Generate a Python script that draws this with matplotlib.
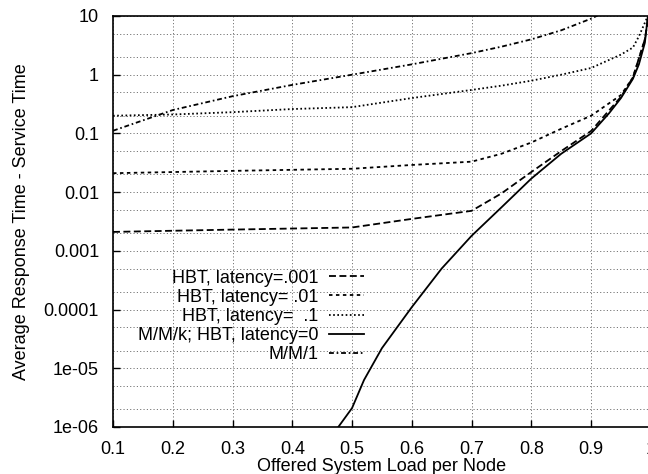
"""Average response time vs offered load: HBT latencies against M/M/k and M/M/1."""

import matplotlib

matplotlib.use("Agg")
import matplotlib.pyplot as plt

plt.rcParams["font.family"] = ["Liberation Sans", "DejaVu Sans"]
plt.rcParams["font.size"] = 13
plt.rcParams["lines.scale_dashes"] = False

# values
load_001 = [0.1, 0.3, 0.5, 0.6, 0.7, 0.75, 0.8, 0.85, 0.9, 0.95, 0.97, 0.99, 0.996]
resp_001 = [0.0021, 0.0023, 0.0025, 0.0035, 0.0048, 0.0095, 0.022, 0.05, 0.11, 0.42, 0.9, 4.0, 10.0]

load_01 = [0.1, 0.3, 0.5, 0.6, 0.7, 0.75, 0.8, 0.85, 0.9, 0.95, 0.97, 0.99, 0.996]
resp_01 = [0.021, 0.023, 0.025, 0.029, 0.033, 0.045, 0.07, 0.12, 0.2, 0.45, 0.9, 4.0, 10.0]

load_1 = [0.1, 0.2, 0.3, 0.4, 0.5, 0.6, 0.7, 0.75, 0.8, 0.85, 0.9, 0.95, 0.97, 0.98, 0.993]
resp_1 = [0.2, 0.21, 0.23, 0.26, 0.28, 0.4, 0.55, 0.65, 0.79, 1.0, 1.3, 2.2, 2.9, 4.5, 9.0]

load_mmk = [0.477, 0.5, 0.52, 0.55, 0.6, 0.65, 0.7, 0.75, 0.8, 0.85, 0.9, 0.93, 0.95, 0.97, 0.98, 0.99, 0.995]
resp_mmk = [1e-6, 2.1e-6, 6.3e-6, 2.2e-5, 1.1e-4, 5e-4, 1.8e-3, 5.5e-3, 0.017, 0.045, 0.1, 0.22, 0.4, 0.85, 1.5, 3.5, 10.0]

load_mm1 = [0.1, 0.2, 0.3, 0.4, 0.5, 0.6, 0.7, 0.75, 0.8, 0.85, 0.9, 0.91]
resp_mm1 = [0.111, 0.25, 0.43, 0.67, 1.0, 1.5, 2.33, 3.0, 4.0, 5.7, 9.0, 10.1]

xticks = [0.1, 0.2, 0.3, 0.4, 0.5, 0.6, 0.7, 0.8, 0.9, 1.0]
xtick_labels = ["0.1", "0.2", "0.3", "0.4", "0.5", "0.6", "0.7", "0.8", "0.9", "1"]
yticks = [1e-6, 1e-5, 1e-4, 1e-3, 1e-2, 1e-1, 1, 10]
ytick_labels = ["1e-06", "1e-05", "0.0001", "0.001", "0.01", "0.1", "1", "10"]
ygrid = [m * 10.0 ** e for e in range(-6, 1) for m in (1, 2, 5)] + [10]


def main() -> None:
    fig = plt.figure(figsize=(6.48, 4.74), dpi=100)
    ax = fig.add_axes([0.1744, 0.0992, 0.830, 0.8671])

    ax.set_yscale("log")
    ax.set_xlim(0.1, 1.0)
    ax.set_ylim(1e-6, 10)

    for y in ygrid:
        ax.axhline(y, color="0.35", lw=0.6, dashes=(0.8, 1.6), zorder=0)
    for x in xticks:
        ax.axvline(x, color="0.35", lw=0.6, dashes=(0.8, 1.6), zorder=0)

    lw = 1.3
    ax.plot(load_001, resp_001, color="black", lw=lw, dashes=(5, 2.5),
            label="HBT, latency=.001")
    ax.plot(load_01, resp_01, color="black", lw=lw, dashes=(2.5, 2.5),
            label="HBT, latency= .01")
    ax.plot(load_1, resp_1, color="black", lw=lw, dashes=(1.2, 1.8),
            label="HBT, latency=  .1")
    ax.plot(load_mmk, resp_mmk, color="black", lw=lw,
            label="M/M/k; HBT, latency=0")
    ax.plot(load_mm1, resp_mm1, color="black", lw=lw, dashes=(3.5, 2, 1.2, 2),
            label="M/M/1")

    ax.set_xticks(xticks, labels=xtick_labels)
    ax.set_yticks(yticks, labels=ytick_labels)
    ax.minorticks_off()
    ax.tick_params(direction="in", length=5, width=1, pad=10)
    for side in ax.spines.values():
        side.set_linewidth(1.2)

    ax.set_xlabel("Offered System Load per Node", labelpad=0)
    ax.set_ylabel("Average Response Time - Service Time", labelpad=10)

    ax.legend(loc="upper right", bbox_to_anchor=(0.483, 0.405), markerfirst=False,
              frameon=False, handlelength=1.9, handletextpad=0.6,
              labelspacing=0.12, borderpad=0, fontsize=13)

    fig.savefig("out.png", dpi=100)
    plt.close(fig)


if __name__ == "__main__":
    main()
